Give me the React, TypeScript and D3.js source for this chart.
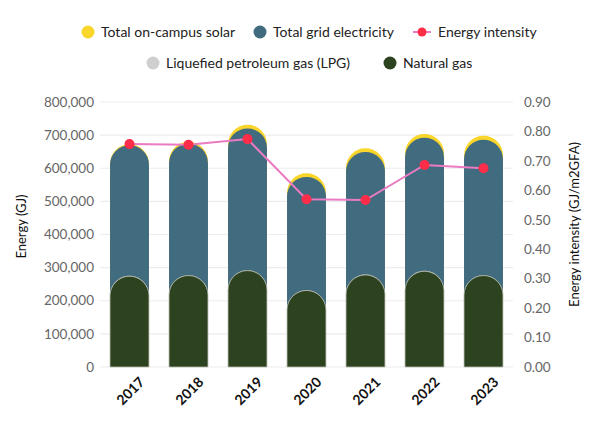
import * as d3 from "d3";
import { useRef, useEffect } from "react";

const years = ["2017", "2018", "2019", "2020", "2021", "2022", "2023"];
const naturalGas = [274000, 276000, 291000, 231000, 278000, 289000, 276000];
const lpg = [1200, 1200, 1300, 900, 1100, 1200, 1100];
const gridElectricity = [394000, 397000, 428000, 342000, 370000, 402000, 409000];
const campusSolar = [3000, 6000, 11000, 11000, 11000, 11000, 12000];
const energyIntensity = [0.757, 0.755, 0.774, 0.57, 0.567, 0.686, 0.675];

const energyTicks = [0, 100000, 200000, 300000, 400000, 500000, 600000, 700000, 800000];
const intensityTicks = [0, 0.1, 0.2, 0.3, 0.4, 0.5, 0.6, 0.7, 0.8, 0.9];

const FONT = "Lato, 'Noto Sans', sans-serif";

function App() {
  const svgRef = useRef<SVGSVGElement>(null);

  useEffect(() => {
    const WIDTH = 600;
    const HEIGHT = 426;
    const left = 100;
    const right = 513;
    const top = 102;
    const bottom = 367;

    const svg = d3.select(svgRef.current)
      .attr("width", WIDTH)
      .attr("height", HEIGHT);
    svg.selectAll("*").remove();

    const x = d3.scaleBand().domain(years).range([left, right]).paddingInner(0.34).paddingOuter(0.17);
    const y = d3.scaleLinear().domain([0, 800000]).range([bottom, top]);
    const y2 = d3.scaleLinear().domain([0, 0.9]).range([bottom, top]);
    const fmt = d3.format(",");

    // grid lines
    svg.append("g").selectAll("line")
      .data(energyTicks)
      .join("line")
      .attr("x1", left)
      .attr("x2", right)
      .attr("y1", d => y(d))
      .attr("y2", d => y(d))
      .attr("stroke", "#ececec")
      .attr("stroke-width", 1.2);

    // left axis labels
    svg.append("g").selectAll("text")
      .data(energyTicks)
      .join("text")
      .attr("x", 94)
      .attr("y", d => y(d))
      .attr("dy", "0.35em")
      .attr("text-anchor", "end")
      .attr("font-family", FONT)
      .attr("font-size", 13.5)
      .attr("fill", "#666")
      .text(d => fmt(d));

    // right axis labels
    svg.append("g").selectAll("text")
      .data(intensityTicks)
      .join("text")
      .attr("x", 524)
      .attr("y", d => y2(d))
      .attr("dy", "0.35em")
      .attr("font-family", FONT)
      .attr("font-size", 13.5)
      .attr("fill", "#666")
      .text(d => d.toFixed(2));

    // rounded-top bar from the baseline up to value
    const bw = x.bandwidth();
    const r = bw / 2;
    const capBar = (year: string, value: number) => {
      const x0 = x(year) as number;
      const yt = y(value);
      return `M${x0},${bottom} L${x0},${yt + r} A${r},${r} 0 0 1 ${x0 + bw},${yt + r} L${x0 + bw},${bottom} Z`;
    };

    // cumulative stacks, drawn tallest first
    const gasTop = naturalGas;
    const lpgTop = naturalGas.map((v, i) => v + lpg[i]);
    const gridTop = lpgTop.map((v, i) => v + gridElectricity[i]);
    const solarTop = gridTop.map((v, i) => v + campusSolar[i]);

    const layers = [
      { tops: solarTop, fill: "#fad52a", stroke: "none" },
      { tops: gridTop, fill: "#416b7f", stroke: "none" },
      { tops: lpgTop, fill: "#cfcfcf", stroke: "none" },
      { tops: gasTop, fill: "#2d421e", stroke: "#b9bdb0" },
    ];

    layers.forEach(layer => {
      svg.append("g").selectAll("path")
        .data(years)
        .join("path")
        .attr("d", (d, i) => capBar(d, layer.tops[i]))
        .attr("fill", layer.fill)
        .attr("stroke", layer.stroke)
        .attr("stroke-width", 0.8);
    });

    // energy intensity line
    const cx = (d: string) => (x(d) as number) + bw / 2;
    const line = d3.line<number>()
      .x((d, i) => cx(years[i]))
      .y(d => y2(d));

    svg.append("path")
      .datum(energyIntensity)
      .attr("d", line)
      .attr("fill", "none")
      .attr("stroke", "#ea7bc3")
      .attr("stroke-width", 2);

    svg.append("g").selectAll("circle")
      .data(energyIntensity)
      .join("circle")
      .attr("cx", (d, i) => cx(years[i]))
      .attr("cy", d => y2(d))
      .attr("r", 5)
      .attr("fill", "#fe2d4a");

    // year labels
    svg.append("g").selectAll("text")
      .data(years)
      .join("text")
      .attr("transform", d => `translate(${cx(d) + 9},${bottom + 9}) rotate(-45)`)
      .attr("text-anchor", "end")
      .attr("dy", "0.7em")
      .attr("font-family", FONT)
      .attr("font-size", 14)
      .attr("font-weight", "bold")
      .attr("fill", "#111")
      .text(d => d);

    // axis titles
    svg.append("text")
      .attr("transform", `translate(26,${(top + bottom) / 2 - 8}) rotate(-90)`)
      .attr("text-anchor", "middle")
      .attr("font-family", FONT)
      .attr("font-size", 13)
      .attr("fill", "#111")
      .text("Energy (GJ)");

    svg.append("text")
      .attr("transform", `translate(579,${(top + bottom) / 2 - 10}) rotate(-90)`)
      .attr("text-anchor", "middle")
      .attr("font-family", FONT)
      .attr("font-size", 13)
      .attr("fill", "#111")
      .text("Energy intensity (GJ/m2GFA)");

    // legend
    const legend = [
      { label: "Total on-campus solar", color: "#fad52a", x: 88, y: 32, type: "dot" },
      { label: "Total grid electricity", color: "#416b7f", x: 260, y: 32, type: "dot" },
      { label: "Energy intensity", color: "#fe2d4a", x: 422, y: 32, type: "line" },
      { label: "Liquefied petroleum gas (LPG)", color: "#cfcfcf", x: 153, y: 63, type: "dot" },
      { label: "Natural gas", color: "#2d421e", x: 390, y: 63, type: "dot" },
    ];

    const items = svg.append("g").selectAll("g")
      .data(legend)
      .join("g")
      .attr("transform", d => `translate(${d.x},${d.y})`);

    items.filter(d => d.type === "line")
      .append("line")
      .attr("x1", -9)
      .attr("x2", 9)
      .attr("stroke", "#ea7bc3")
      .attr("stroke-width", 2);

    items.append("circle")
      .attr("r", d => (d.type === "line" ? 4.5 : 6.5))
      .attr("fill", d => d.color);

    items.append("text")
      .attr("x", d => (d.type === "line" ? 16 : 13))
      .attr("dy", "0.35em")
      .attr("font-family", FONT)
      .attr("font-size", 14)
      .attr("fill", "#222")
      .text(d => d.label);
  }, []);

  return (
    <div style={{ position: "absolute", left: 0, top: 0 }}>
      <svg ref={svgRef} style={{ display: "block" }} />
    </div>
  );
}

export default App;
